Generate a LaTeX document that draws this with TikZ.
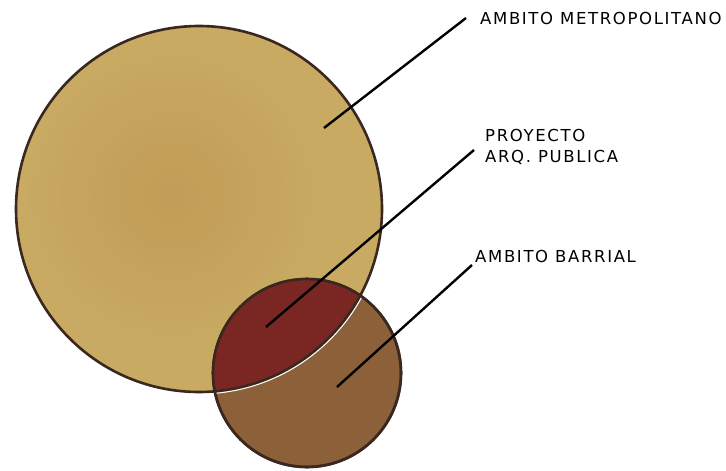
\documentclass[tikz,border=0pt]{standalone}
\usepackage{fontspec}
\setmainfont{DejaVu Sans}[LetterSpace=10]
\usetikzlibrary{positioning}
\definecolor{ochre}{HTML}{C8AA62}
\definecolor{ochrecore}{HTML}{C29C56}
\definecolor{wine}{HTML}{7A2622}
\definecolor{umber}{HTML}{8C6038}
\definecolor{rim}{HTML}{3A2820}
\begin{document}
\begin{tikzpicture}[x=1pt, y=-1pt, every node/.style={font=\fontsize{16.5}{21}\selectfont},
  disc/.style={circle,draw=rim,line width=2.6pt,inner sep=0pt},
  tag/.style={align=left,inner sep=0pt,text=black},
  leader/.style={line width=2.4pt,black}]
\useasboundingbox[fill=white] (0,0) rectangle (726,471);
\node[disc,fill=ochre,minimum size=366pt] (metro) at (199,209) {};
\begin{scope}
  \clip (metro.center) circle[radius=181.5pt];
  \shade[inner color=ochrecore, outer color=ochre] (172,195) circle[radius=150pt];
\end{scope}
\node[disc,fill=umber,minimum size=188pt] (barrio) at (307,373) {};
% overlap
\begin{scope}
  \clip (barrio.center) circle[radius=94pt];
  \fill[wine] (metro.center) circle[radius=183pt];
  \draw[rim,line width=2.6pt] (metro.center) circle[radius=183pt];
  \draw[white,line width=1pt] (metro.center) circle[radius=185pt];
\end{scope}
\draw[rim,line width=2.6pt] (barrio.center) circle[radius=94pt];
% leaders
\coordinate (pMetro) at (324,128);  \coordinate (eMetro) at (466,18);
\coordinate (pProj) at (266,327);   \coordinate (eProj) at (474,150);
\coordinate (pBarrio) at (337,387); \coordinate (eBarrio) at (472,265);
\node[tag,right=14pt of eMetro] (lMetro) {AMBITO METROPOLITANO};
\node[tag,right=11pt of eProj,yshift=3pt] (lProj) {PROYECTO\\ARQ. PUBLICA};
\node[tag,above right=2pt and 3pt of eBarrio] (lBarrio) {AMBITO BARRIAL};
\draw[leader] (pMetro)--(eMetro);
\draw[leader] (pProj)--(eProj);
\draw[leader] (pBarrio)--(eBarrio);
\end{tikzpicture}
\end{document}
